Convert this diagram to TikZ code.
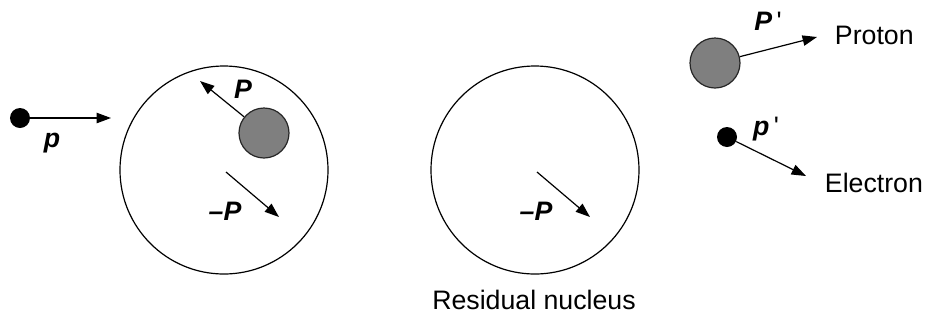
\documentclass[tikz,border=0pt]{standalone}
\usepackage{fontspec}
\setmainfont{Liberation Sans}
\usetikzlibrary{arrows.meta}

\begin{document}
\begin{tikzpicture}[x=0.25mm, y=-0.25mm,
		nucleus/.style={circle, draw, line width=0.3mm, minimum size=52mm, inner sep=0pt},
		proton/.style={circle, draw=black!85, fill=protgray, line width=0.3mm, minimum size=12.5mm, inner sep=0pt},
		electron/.style={circle, fill=black, minimum size=5mm, inner sep=0pt},
		mom/.style={line width=0.3mm, -{Triangle[length=3.6mm, width=2.6mm]}},
		vec/.style={font=\fontsize{19}{22}\selectfont\bfseries\itshape},
		lbl/.style={font=\fontsize{19}{22}\selectfont}
		]
		\definecolor{protgray}{HTML}{7F7F7F}
		\useasboundingbox (0,0) rectangle (927,320);
		
		% Incoming electron
		\node[electron] (ein) at (20,118) {};
		\coordinate (eintip) at (111,118);
		\draw[mom] (ein) -- (eintip);
		\node[vec] (pin) at (52,143) {p};
		
		% Target nucleus with struck proton
		\node[nucleus] (nucA) at (224,170) {};
		\node[proton] (protA) at (264,133) {};
		\coordinate (Ptip) at (200,81);
		\draw[mom] (protA) -- (Ptip);
		\node[vec] (PA) at (243,89) {P};
		\coordinate (mPstartA) at (226,172);
		\coordinate (mPtipA) at (279,217);
		\draw[mom] (mPstartA) -- (mPtipA);
		\node[vec] (mPA) at (225,211) {–P};
		
		% Residual nucleus
		\node[nucleus] (nucB) at (535,170) {};
		\coordinate (mPstartB) at (537,172);
		\coordinate (mPtipB) at (590,217);
		\draw[mom] (mPstartB) -- (mPtipB);
		\node[vec] (mPB) at (536,211) {–P};
		\node[lbl] (resid) at (534,300) {Residual nucleus};
		
		% Outgoing proton
		\node[proton] (protout) at (715,63) {};
		\coordinate (protouttip) at (817,37);
		\draw[mom] (protout) -- (protouttip);
		\node[vec] (Pprime) at (768,21) {P\,\textnormal{\textquotesingle}};
		\node[lbl, anchor=west] (protlbl) at (830,35) {Proton};
		
		% Outgoing electron
		\node[electron] (eout) at (727,137) {};
		\coordinate (eouttip) at (806,176);
		\draw[mom] (eout) -- (eouttip);
		\node[vec] (pprime) at (766,129) {p\,\textnormal{\textquotesingle}};
		\node[lbl, anchor=west] (eleclbl) at (820,183) {Electron};
		
	\end{tikzpicture}
\end{document}
